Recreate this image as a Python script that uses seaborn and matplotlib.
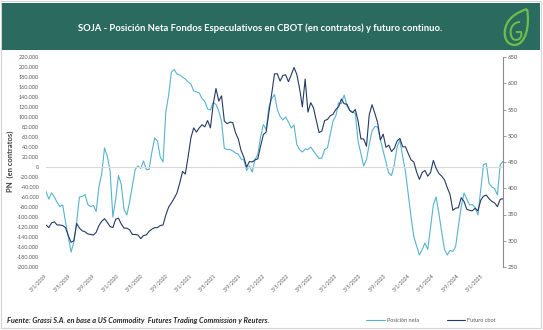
import numpy as np
import pandas as pd
import matplotlib
matplotlib.use("Agg")
import matplotlib.pyplot as plt
import matplotlib.dates as mdates
from matplotlib.patches import Rectangle, PathPatch
from matplotlib.path import Path
from matplotlib.ticker import FuncFormatter, MultipleLocator
from matplotlib.transforms import Affine2D
import seaborn as sns

# Serie quincenal desde el 3/1/2019
fechas = pd.date_range("2019-01-03", periods=165, freq="14D")

# Posición neta de fondos especulativos en CBOT (contratos)
posicion_neta = [
    -49000, -64000, -52000, -60000, -71000, -79000, -76000, -110000, -140000, -170000,
    -150000, -110000, -60000, -59000, -55000, -75000, -79000, -77000, -89000, -40000,
    -13000, 38000, 22000, -8000, -100000, -65000, -17000, -35000, -85000, -96000,
    -70000, -37000, -5000, 2000, -3000, 12000, -5000, -5000, 30000, 58000,
    52000, 20000, 10000, 110000, 143000, 190000, 195000, 186000, 184000, 180000,
    176000, 170000, 166000, 152000, 150000, 148000, 137000, 131000, 116000, 114000,
    129000, 125000, 112000, 91000, 37000, 35000, 35000, 32000, 28000, 26000,
    16000, 14000, -7000, 2000, -10000, 15000, 25000, 60000, 85000, 75000,
    120000, 137000, 145000, 115000, 101000, 94000, 100000, 90000, 78000, 84000,
    45000, 35000, 30000, 36000, 35000, 40000, 32000, 24000, 17000, 18000,
    35000, 38000, 65000, 92000, 102000, 128000, 127000, 144000, 122000, 114000,
    110000, 107000, 51000, 27000, 2000, 15000, 45000, 72000, 81000, 80000,
    55000, 32000, 10000, -12000, -17000, 5000, 40000, 54000, 20000, -9000,
    -55000, -100000, -139000, -158000, -176000, -165000, -152000, -165000, -120000, -76000,
    -60000, -93000, -130000, -165000, -176000, -167000, -169000, -159000, -118000, -80000,
    -52000, -64000, -76000, -75000, -81000, -96000, -45000, 5000, 7000, -33000,
    -40000, -43000, -56000, 5000, 11000,
]

# Futuro continuo de soja en CBOT (USD/t)
futuro_cbot = [
    330, 325, 334, 336, 330, 330, 329, 325, 310, 297,
    300, 333, 324, 319, 317, 313, 312, 311, 316, 329,
    337, 342, 335, 327, 325, 341, 343, 332, 324, 324,
    321, 312, 312, 311, 304, 310, 311, 318, 322, 325,
    325, 329, 330, 349, 364, 372, 381, 391, 410, 432,
    427, 460, 496, 515, 507, 515, 521, 517, 529, 515,
    560, 590, 566, 576, 528, 523, 526, 525, 506, 494,
    472, 459, 440, 451, 450, 454, 456, 480, 502, 507,
    545, 580, 618, 618, 604, 615, 616, 603, 616, 630,
    617, 590, 555, 608, 545, 563, 553, 529, 506, 509,
    529, 531, 538, 541, 550, 555, 570, 561, 560, 548,
    544, 550, 528, 494, 494, 480, 540, 559, 543, 525,
    492, 503, 478, 482, 470, 476, 490, 495, 479, 479,
    466, 454, 450, 431, 417, 430, 434, 423, 430, 453,
    438, 428, 423, 416, 401, 388, 358, 362, 363, 382,
    375, 360, 358, 357, 362, 357, 377, 385, 387, 380,
    375, 372, 365, 379, 380,
]

serie_pn = "Posición neta"
serie_cbot = "Futuro cbot"
titulo = "SOJA - Posición Neta Fondos Especulativos en CBOT (en contratos) y futuro continuo."
fuente = "Fuente: Grassi S.A. en base a US Commodity  Futures Trading Commission y Reuters."
etiqueta_y = "PN  (en contratos)"

# Marcas del eje de fechas cada cuatro meses
marcas = pd.date_range("2019-01-03", "2025-01-03", freq=pd.DateOffset(months=4))

df = pd.DataFrame({"fecha": fechas, serie_pn: posicion_neta, serie_cbot: futuro_cbot})

sns.set_style("white")
plt.rcParams["font.family"] = ["Lato", "DejaVu Sans"]

W, H = 543, 330
fig = plt.figure(figsize=(W / 100, H / 100), dpi=100)
px = Affine2D().scale(1 / W, -1 / H).translate(0, 1) + fig.transFigure


def fx(x):
    return x / W


def fy(y):
    return 1 - y / H


VERDE = "#2b6b5f"
CELESTE = "#56b3cf"
AZUL = "#233a63"
GRIS = "#595959"
VERDE_LOGO = "#6cc04a"

# Marco y banda del título
fig.patches.append(Rectangle((1, 1), 540, 327, transform=px, fill=False,
                             ec="#d4d4d4", lw=0.8))
fig.patches.append(Rectangle((2, 3), 538, 47, transform=px, fc=VERDE, ec="none"))
fig.text(fx(260), fy(28), titulo, color="white", weight="bold", fontsize=6.8,
         ha="center", va="center")

# Logo: hoja con una G interior
hoja = Path(
    [(527, 9), (530, 25), (526, 44), (515, 45),
     (505, 45), (503, 34), (506, 26),
     (509, 17), (518, 12), (527, 9)],
    [Path.MOVETO, Path.CURVE4, Path.CURVE4, Path.CURVE4,
     Path.CURVE4, Path.CURVE4, Path.CURVE4,
     Path.CURVE4, Path.CURVE4, Path.CURVE4],
)
fig.patches.append(PathPatch(hoja, transform=px, fill=False, ec=VERDE_LOGO, lw=1.6))
g_interior = Path(
    [(520, 22), (511, 22), (508, 33), (513, 39),
     (518, 42), (523, 37), (521, 32), (516, 32)],
    [Path.MOVETO, Path.CURVE4, Path.CURVE4, Path.CURVE4,
     Path.CURVE4, Path.CURVE4, Path.CURVE4, Path.LINETO],
)
fig.patches.append(PathPatch(g_interior, transform=px, fill=False, ec=VERDE_LOGO, lw=1.4))

# Área de gráfico
ax = fig.add_axes([fx(46), fy(267), fx(503) - fx(46), fy(57) - fy(267)])
ax2 = ax.twinx()

sns.lineplot(data=df, x="fecha", y=serie_pn, ax=ax, color=CELESTE, lw=0.8,
             legend=False, zorder=2)
sns.lineplot(data=df, x="fecha", y=serie_cbot, ax=ax2, color=AZUL, lw=0.8,
             legend=False, zorder=3)

ax.set_xlim(mdates.date2num(fechas[0]), mdates.date2num(fechas[-1]))
ax.set_ylim(-200000, 220000)
ax.yaxis.set_major_locator(MultipleLocator(20000))
ax.yaxis.set_major_formatter(FuncFormatter(lambda v, p: f"{int(round(v)):,}".replace(",", ".")))
ax2.set_ylim(250, 650)
ax2.yaxis.set_major_locator(MultipleLocator(50))

ax.set_xlabel("")
ax.set_ylabel("")
ax2.set_ylabel("")

for s in ("left", "top", "right"):
    ax.spines[s].set_visible(False)
for s in ("left", "top", "bottom"):
    ax2.spines[s].set_visible(False)
ax.spines["bottom"].set_position(("data", 0))
ax.spines["bottom"].set_color("#d9d9d9")
ax.spines["bottom"].set_linewidth(0.8)
ax2.spines["right"].set_color("#8c8c8c")
ax2.spines["right"].set_linewidth(0.8)

pos_marcas = mdates.date2num(marcas)
etiquetas = [f"{d.day}/{d.month}/{d.year}" for d in marcas]
ax.set_xticks(pos_marcas)
ax.tick_params(axis="x", direction="out", length=2.5, width=0.6, color="#d9d9d9",
               labelbottom=False)
ax.tick_params(axis="y", length=0, labelsize=4, labelcolor=GRIS, pad=5)
ax2.tick_params(axis="y", direction="out", length=2, width=0.6, color="#8c8c8c",
                labelsize=4.2, labelcolor=GRIS, pad=1.5)

# Fechas al pie del área de gráfico, en diagonal
sec = ax.secondary_xaxis(0.0)
sec.set_xticks(pos_marcas, labels=etiquetas, rotation=45, ha="right",
               rotation_mode="anchor", va="center")
sec.tick_params(axis="x", length=0, labelsize=3.7, labelcolor=GRIS, pad=5.5)
sec.spines["bottom"].set_visible(False)

fig.text(fx(10), fy(161), etiqueta_y, rotation=90, weight="bold", fontsize=5.5,
         color="#404040", ha="center", va="center")

# Fuente y leyenda
fig.text(fx(7), fy(320), fuente, style="italic", weight="bold", fontsize=5.3,
         color="#262626", ha="left", va="center")
manejadores = [ax.get_lines()[0], ax2.get_lines()[0]]
fig.legend(manejadores, [serie_pn, serie_cbot], loc="center",
           bbox_to_anchor=(fx(431), fy(320)), ncol=2, frameon=False, fontsize=4,
           labelcolor=GRIS, handlelength=3.3, handletextpad=0.4, columnspacing=5)

fig.savefig("out.png", dpi=100)
